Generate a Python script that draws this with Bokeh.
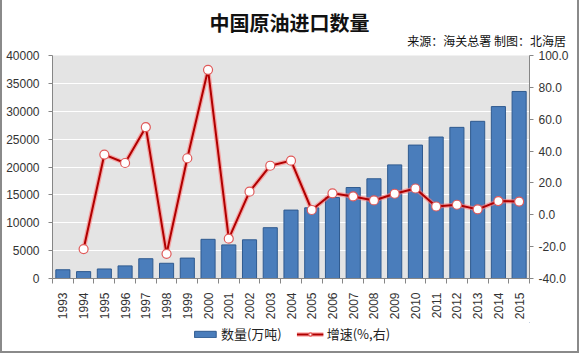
import numpy as np
from bokeh.plotting import figure
from bokeh.layouts import column
from bokeh.models import (Range1d, LinearAxis, FixedTicker, NumeralTickFormatter,
                          Legend, LegendItem, ColumnDataSource, Div)
from bokeh.embed import file_html
from bokeh.resources import INLINE

years = [str(y) for y in range(1993, 2016)]
imports = [1567, 1235, 1709, 2262, 3547, 2732, 3661, 7027, 6026, 6941, 9112, 12272,
           12682, 14518, 16317, 17889, 20379, 23931, 25378, 27109, 28195, 30837, 33550]
growth = [np.nan, -21.5, 37.8, 32.5, 55.0, -24.5, 35.5, 91.0, -15.0, 14.5, 30.8, 34.0,
          3.0, 13.5, 11.5, 9.0, 13.2, 16.5, 5.2, 6.3, 3.4, 8.6, 8.3]
left_ticks = list(range(0, 40001, 5000))
right_ticks = list(range(-40, 101, 20))

title_text = "中国原油进口数量"
source_text = "来源：海关总署 制图：北海居"
bar_label = "数量(万吨)"
line_label = "增速(%,右)"

CJK = "Noto Sans CJK SC"
NUM = "Liberation Sans"

BAR_FILL, BAR_LINE = "#4a7dbb", "#2f5a8f"
HALO, CORE = "#ff7a7a", "#b00000"

x = np.arange(len(years)) + 0.5
src = ColumnDataSource(dict(x=x, imp=imports, g=growth))

# heading strip
head = Div(
    text=(f'<div style="position:relative;width:575px;height:48px;">'
          f'<div style="position:absolute;left:0;right:0;top:11px;text-align:center;'
          f'font-family:\'{CJK}\';font-size:20px;font-weight:bold;line-height:24px;'
          f'color:#111;">{title_text}</div>'
          f'<div style="position:absolute;right:11px;top:33px;white-space:nowrap;'
          f'font-family:\'{CJK}\';font-size:12px;line-height:16px;color:#111;">'
          f'{source_text}</div></div>'),
    width=575, height=48, styles={"margin": "0", "padding": "0"})

p = figure(width=575, height=274, title=None, output_backend="svg", toolbar_location=None,
           x_range=Range1d(0, len(years)), y_range=Range1d(0, 40000),
           min_border_left=50, min_border_right=48, min_border_top=7, min_border_bottom=44)
p.extra_y_ranges = {"right": Range1d(-40, 100)}
p.background_fill_color = "#e4e4e4"
p.border_fill_color = "white"
p.outline_line_color = None

bars = p.vbar(x="x", top="imp", width=0.68, source=src, fill_color=BAR_FILL,
              line_color=BAR_LINE, line_width=1)
p.line(x="x", y="g", source=src, y_range_name="right", line_color=HALO,
       line_width=4.5, line_alpha=0.6)
p.line(x="x", y="g", source=src, y_range_name="right", line_color=CORE, line_width=2)
p.scatter(x="x", y="g", source=src, y_range_name="right", size=9, marker="circle",
          fill_color="white", line_color="#e05a5a", line_width=1.2)

# x axis
xt = FixedTicker(ticks=list(x), minor_ticks=list(range(len(years) + 1)))
xa = p.xaxis[0]
xa.ticker = xt
xa.major_label_overrides = {float(c): y for c, y in zip(x, years)}
xa.major_label_orientation = np.pi / 2
xa.major_tick_out = 0
xa.major_tick_in = 0
xa.minor_tick_out = 5
xa.minor_tick_in = 0
xa.minor_tick_line_color = "#868686"
xa.axis_line_color = "#868686"
xa.major_label_standoff = 9
xa.major_label_text_font = NUM
xa.major_label_text_font_size = "12px"
xa.major_label_text_color = "#333333"

ya = p.yaxis[0]
ya.ticker = FixedTicker(ticks=left_ticks)
ya.formatter = NumeralTickFormatter(format="0")
ya.major_tick_out = 4
ya.major_tick_in = 0
ya.minor_tick_out = 0
ya.minor_tick_in = 0
ya.axis_line_color = "#868686"
ya.major_tick_line_color = "#868686"
ya.major_label_standoff = 9
ya.major_label_text_font = NUM
ya.major_label_text_font_size = "12px"
ya.major_label_text_color = "#333333"

ra = LinearAxis(y_range_name="right", ticker=FixedTicker(ticks=right_ticks),
                formatter=NumeralTickFormatter(format="0.0"))
ra.major_tick_out = 4
ra.major_tick_in = 0
ra.minor_tick_out = 0
ra.minor_tick_in = 0
ra.axis_line_color = "#868686"
ra.major_tick_line_color = "#868686"
ra.major_label_standoff = 5
ra.major_label_text_font = NUM
ra.major_label_text_font_size = "12px"
ra.major_label_text_color = "#333333"
p.add_layout(ra, "right")

p.xgrid.visible = False
p.ygrid.ticker = FixedTicker(ticks=left_ticks)
p.ygrid.grid_line_color = "white"
p.ygrid.grid_line_width = 1

# legend strip (proxy renderers sit outside the strip's visible range)
p2 = figure(width=575, height=29, title=None, output_backend="svg", toolbar_location=None,
            x_range=Range1d(0, 1), y_range=Range1d(0, 1), min_border=0)
p2.axis.visible = False
p2.grid.visible = False
p2.outline_line_color = None
p2.background_fill_color = "white"
off = [5.0, 6.0]
lb = p2.vbar(x=off[:1], top=off[1:], bottom=off[:1], width=0.5, fill_color=BAR_FILL,
             line_color=BAR_LINE)
lh = p2.line(x=off, y=off, line_color=HALO, line_width=4.5, line_alpha=0.6)
lc = p2.line(x=off, y=off, line_color=CORE, line_width=2)
lm = p2.scatter(x=off, y=off, size=9, marker="circle", fill_color="white",
                line_color="#e05a5a", line_width=1.2)
legend = Legend(items=[LegendItem(label=bar_label, renderers=[lb]),
                       LegendItem(label=line_label, renderers=[lh, lc, lm])],
                orientation="horizontal", location="top_center",
                border_line_color=None, background_fill_alpha=0,
                label_text_font=CJK, label_text_font_size="13px", label_text_color="#222222",
                glyph_width=27, glyph_height=8, label_standoff=3, spacing=15,
                padding=0, margin=2)
p2.add_layout(legend, "center")

lay = column(head, p, p2, spacing=0,
             styles={"border-left": "2px solid #8a8a8a", "border-right": "2px solid #8a8a8a",
                     "border-bottom": "2px solid #8a8a8a"})

open("out.html", "w").write(file_html(lay, INLINE))
